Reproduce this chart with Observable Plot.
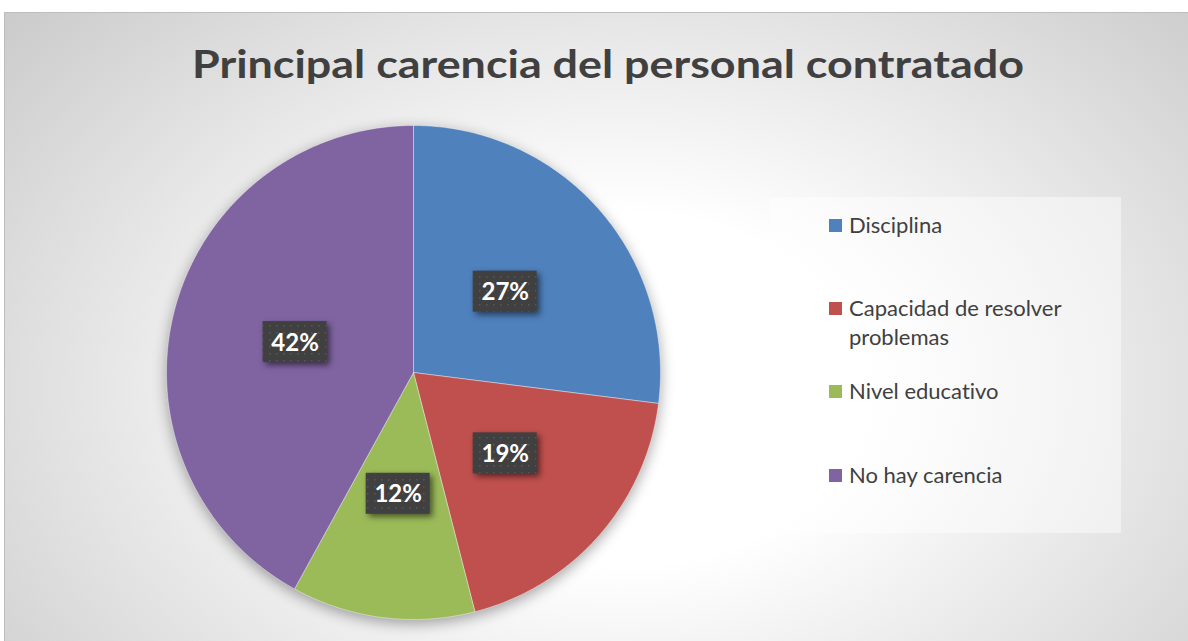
<!DOCTYPE html>
<html><head><meta charset="utf-8">
<script src="https://cdn.jsdelivr.net/npm/d3@7"></script>
<script src="https://cdn.jsdelivr.net/npm/@observablehq/plot@0.6"></script>
<style>
body{margin:0;background:#fff;width:1188px;height:641px;overflow:hidden;position:relative;font-family:Lato,"Open Sans",sans-serif;}
#bg{position:absolute;left:4px;top:12px;width:1184px;height:629px;border-top:1px solid #bdbdbd;border-left:1px solid #bdbdbd;box-sizing:border-box;
background:radial-gradient(ellipse 75% 100% at 52% 60%, #ffffff 0%, #ffffff 28%, #c4c4c4 100%);}
#pie{position:absolute;left:0;top:0;}
#overlay{position:absolute;left:0;top:0;}
text{font-variant-ligatures:none;}
</style></head>
<body>
<div id="bg"></div>
<div id="pie"></div>
<svg id="overlay" width="1188" height="641"></svg>
<script>
const title = "Principal carencia del personal contratado";
const categories = ["Disciplina", "Capacidad de resolver problemas", "Nivel educativo", "No hay carencia"];
const values = [27, 19, 12, 42];
const colors = ["#4F81BD", "#C0504D", "#9BBB59", "#8064A2"];
const legendLines = [["Disciplina"], ["Capacidad de resolver", "problemas"], ["Nivel educativo"], ["No hay carencia"]];

// Build pie polygons from the values
const total = d3.sum(values);
const pts = [];
const labels = [];
let acc = 0;
const step = Math.PI / 360;
categories.forEach((c, i) => {
  const a0 = acc / total * 2 * Math.PI;
  acc += values[i];
  const a1 = acc / total * 2 * Math.PI;
  pts.push({cat: c, x: 0, y: 0});
  for (let t = a0; t < a1; t += step) pts.push({cat: c, x: Math.sin(t), y: Math.cos(t)});
  pts.push({cat: c, x: Math.sin(a1), y: Math.cos(a1)});
  pts.push({cat: c, x: 0, y: 0});
  const m = (a0 + a1) / 2;
  labels.push({cat: c, x: 0.495 * Math.sin(m), y: 0.495 * Math.cos(m), label: values[i] + "%"});
});

const R = 247; // pixel radius
const bw = 32 / R, bh = 20.5 / R;

const chart = Plot.plot({
  width: 1188, height: 641, margin: 0,
  style: "background:transparent;overflow:visible;",
  x: {domain: [-1, 1], range: [413 - R, 413 + R], axis: null},
  y: {domain: [-1, 1], range: [372 + R, 372 - R], axis: null},
  color: {domain: categories, range: colors},
  marks: [
    Plot.line(pts, {x: "x", y: "y", z: "cat", fill: "cat", stroke: "#ffffff", strokeWidth: 0.8, strokeOpacity: 0.5}),
    Plot.rect(labels, {x1: d => d.x - bw, x2: d => d.x + bw, y1: d => d.y - bh, y2: d => d.y + bh, fill: "#404040"}),
    Plot.rect(labels, {x1: d => d.x - bw, x2: d => d.x + bw, y1: d => d.y - bh, y2: d => d.y + bh, fill: "url(#dots)"}),
    Plot.text(labels, {x: "x", y: "y", text: "label", fill: "white", fontSize: 24, fontWeight: "bold", fontFamily: "Lato, 'Open Sans', sans-serif", dy: 1})
  ]
});
const s = d3.select(chart);
s.insert("defs", ":first-child").html('<pattern id="dots" width="7" height="7" patternUnits="userSpaceOnUse"><rect x="3" y="3" width="1.5" height="1.5" fill="#575757"/></pattern>');
s.select('g[aria-label="line"]').style("filter", "drop-shadow(0px 4px 7px rgba(0,0,0,0.35))");
s.selectAll('g[aria-label="rect"]').filter((d, i) => i === 0).style("filter", "drop-shadow(3px 3px 3px rgba(0,0,0,0.55))");
document.getElementById("pie").appendChild(chart);

// Title and legend
const ov = d3.select("#overlay");
ov.append("text").attr("x", 608).attr("y", 78).attr("text-anchor", "middle")
  .attr("font-family", "Lato, 'Open Sans', sans-serif").attr("font-weight", "bold").attr("font-size", 39)
  .attr("fill", "#404040").attr("textLength", 832).attr("lengthAdjust", "spacingAndGlyphs").text(title);

ov.append("rect").attr("x", 770).attr("y", 197).attr("width", 351).attr("height", 336).attr("fill", "rgba(255,255,255,0.45)");
const baselines = [233, 316, 399, 483];
const lineGap = 29;
categories.forEach((c, i) => {
  ov.append("rect").attr("x", 829).attr("y", baselines[i] - 14).attr("width", 13).attr("height", 13).attr("fill", colors[i]);
  legendLines[i].forEach((ln, j) => {
    ov.append("text").attr("x", 849).attr("y", baselines[i] + j * lineGap)
      .attr("font-family", "Lato, 'Open Sans', sans-serif").attr("font-size", 22).attr("fill", "#404040").text(ln);
  });
});
</script>
</body></html>
